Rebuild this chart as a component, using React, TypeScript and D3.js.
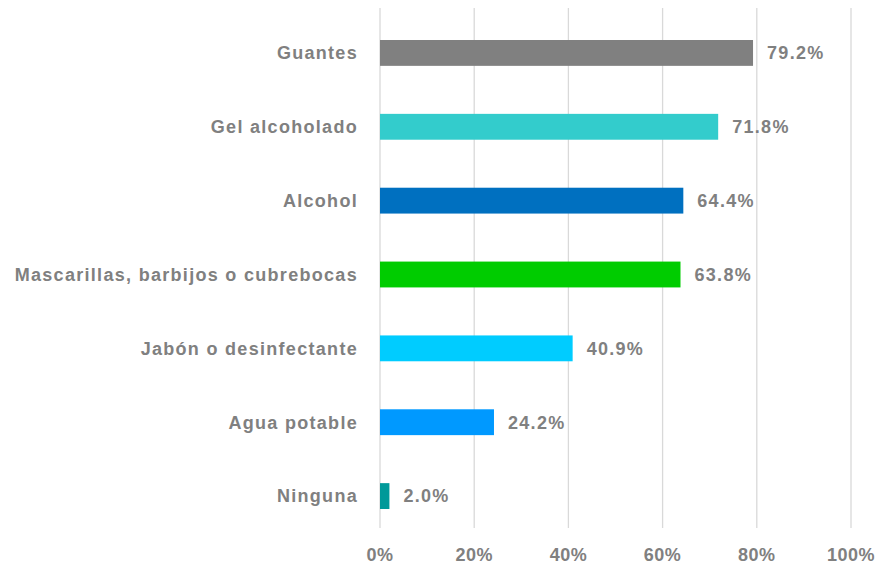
import React from "react";
import * as d3 from "d3";

const categories = [
  "Guantes",
  "Gel alcoholado",
  "Alcohol",
  "Mascarillas, barbijos o cubrebocas",
  "Jabón o desinfectante",
  "Agua potable",
  "Ninguna",
];
const values = [79.2, 71.8, 64.4, 63.8, 40.9, 24.2, 2.0];
const colors = ["#808080", "#33CCCC", "#0070C0", "#00CC00", "#00CCFF", "#0099FF", "#009999"];
const ticks = [0, 20, 40, 60, 80, 100];

export default function App() {
  const W = 875, H = 565;
  const left = 380, right = 851;
  const x = d3.scaleLinear().domain([0, 100]).range([left, right]);
  const y = d3.scaleBand().domain(categories).range([16, 533]).paddingInner(0.65).paddingOuter(0.325);
  const font = "'Liberation Sans', Arial, sans-serif";
  const ls = 1.3;
  return (
    <svg width={W} height={H} style={{ position: "absolute", left: 0, top: 0 }}>
      <rect width={W} height={H} fill="#fff" />
      {ticks.map((t) => (
        <line key={t} x1={x(t)} x2={x(t)} y1={8} y2={528} stroke="#d9d9d9" strokeWidth={1.3} />
      ))}
      {categories.map((c, i) => (
        <g key={c}>
          <rect x={x(0)} y={y(c)} width={x(values[i]) - x(0)} height={y.bandwidth()} fill={colors[i]} />
          <text x={358} y={y(c)! + y.bandwidth() / 2} dy="0.35em" textAnchor="end" fill="#808080" fontFamily={font} fontWeight="bold" fontSize={18} letterSpacing={ls}>{c}</text>
          <text x={x(values[i]) + 14} y={y(c)! + y.bandwidth() / 2} dy="0.35em" fill="#808080" fontFamily={font} fontWeight="bold" fontSize={18} letterSpacing={ls}>{values[i].toFixed(1)}%</text>
        </g>
      ))}
      {ticks.map((t) => (
        <text key={t} x={x(t)} y={555} dy="0.35em" textAnchor="middle" fill="#808080" fontFamily={font} fontWeight="bold" fontSize={18} letterSpacing={0.5}>{t}%</text>
      ))}
    </svg>
  );
}
